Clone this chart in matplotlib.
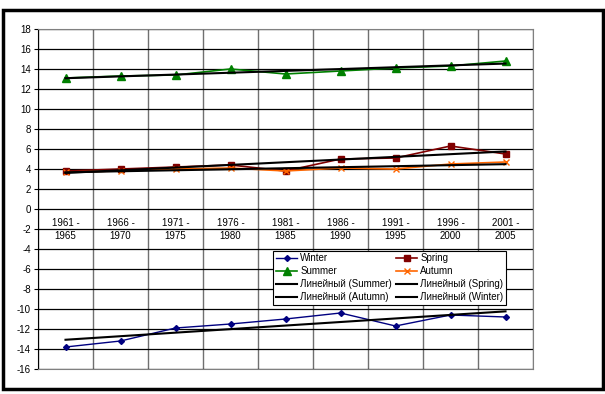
import numpy as np
import matplotlib
matplotlib.use("Agg")
import matplotlib.pyplot as plt
from matplotlib.patches import Rectangle

plt.rcParams['font.family'] = ['Liberation Sans', 'DejaVu Sans']
plt.rcParams['axes.unicode_minus'] = False

periods = ["1961 -\n1965", "1966 -\n1970", "1971 -\n1975", "1976 -\n1980", "1981 -\n1985",
           "1986 -\n1990", "1991 -\n1995", "1996 -\n2000", "2001 -\n2005"]
winter = [-13.8, -13.2, -11.9, -11.5, -11.0, -10.4, -11.7, -10.6, -10.8]
spring = [3.8, 4.0, 4.2, 4.4, 3.8, 5.0, 5.1, 6.3, 5.5]
summer = [13.1, 13.3, 13.4, 14.0, 13.5, 13.8, 14.1, 14.3, 14.8]
autumn = [3.7, 3.8, 4.0, 4.1, 3.8, 4.1, 4.0, 4.5, 4.7]

fig = plt.figure(figsize=(6.05, 3.94), dpi=100)
ax = fig.add_axes([38/605, 1-369/394, (533-38)/605, (369-29)/394])

x = np.arange(len(periods))

def trend(vals):
    k, b = np.polyfit(x, vals, 1)
    return k*x + b

l_w, = ax.plot(x, winter, color='#000080', marker='D', ms=3, lw=1, label='Winter')
l_sp, = ax.plot(x, spring, color='#800000', marker='s', ms=5, lw=1.2, label='Spring')
l_su, = ax.plot(x, summer, color='#008000', marker='^', ms=6, lw=1.2, label='Summer')
l_a, = ax.plot(x, autumn, color='#FF6600', marker='x', ms=5, mew=1, lw=1.2, label='Autumn')

t_su, = ax.plot(x, trend(summer), color='black', lw=1.5, label='Линейный (Summer)')
t_sp, = ax.plot(x, trend(spring), color='black', lw=1.5, label='Линейный (Spring)')
t_a, = ax.plot(x, trend(autumn), color='black', lw=1.5, label='Линейный (Autumn)')
t_w, = ax.plot(x, trend(winter), color='black', lw=1.5, label='Линейный (Winter)')

ax.set_xlim(-0.5, len(periods) - 0.5)
ax.set_ylim(-16, 18)
ax.set_yticks(range(-16, 19, 2))
ax.tick_params(axis='y', labelsize=7, length=3, width=0.8, pad=2)
ax.set_xticks([])
for i in range(len(periods) + 1):
    ax.axvline(i - 0.5, color='#707070', lw=1, zorder=0)
for v in range(-16, 19, 2):
    ax.axhline(v, color='black', lw=0.9, zorder=0)
for i, lab in enumerate(periods):
    ax.text(i, -2.05, lab, ha='center', va='center', fontsize=7, linespacing=1.45)

for s in ['top', 'right', 'bottom']:
    ax.spines[s].set_color('#808080')
ax.spines['left'].set_color('black')

handles = [l_w, l_su, t_su, t_a, l_sp, l_a, t_sp, t_w]
leg = ax.legend(handles=handles, ncol=2, fontsize=7, loc='upper left',
                bbox_to_anchor=((273-38)/495, (369-250.5)/340), frameon=True,
                fancybox=False, edgecolor='black', framealpha=1,
                handlelength=2.2, handletextpad=0.3, columnspacing=0.4,
                labelspacing=0.3, borderpad=0.3, borderaxespad=0)
leg.get_frame().set_linewidth(0.8)

fig.patches.append(Rectangle((3/605, 1-389/394), 600/605, 379/394, transform=fig.transFigure,
                             fill=False, edgecolor='black', lw=2.5))

fig.savefig("out.png", dpi=100)
